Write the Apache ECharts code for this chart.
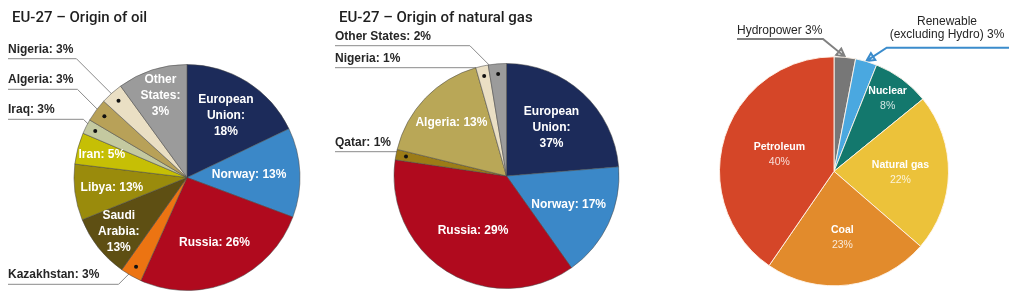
<!DOCTYPE html>
<html><head><meta charset="utf-8">
<script src="https://cdn.jsdelivr.net/npm/echarts@6/dist/echarts.min.js"></script>
<style>html,body{margin:0;padding:0;background:#fff}#c{width:1024px;height:302px}</style>
</head><body><div id="c"></div>
<script>
// ---------------- DATA ----------------
const oilTitle = 'EU-27 – Origin of oil';
const oilCategories = ['European Union','Norway','Russia','Kazakhstan','Saudi Arabia','Libya','Iran','Iraq','Algeria','Nigeria','Other States'];
// slice sizes as drawn in the picture (share of the full circle, %)
const oilSlices = [17.9,12.8,26.0,3.1,9.1,8.0,4.5,2.1,3.3,3.2,10.0];
// percentages printed on the picture
const oilPrinted = ['18%','13%','26%','3%','13%','13%','5%','3%','3%','3%','3%'];

const gasTitle = 'EU-27 – Origin of natural gas';
const gasCategories = ['European Union','Norway','Russia','Qatar','Algeria','Nigeria','Other States'];
const gasSlices = [23.7,16.5,37.1,1.5,16.8,1.8,2.6];
const gasPrinted = ['37%','17%','29%','1%','13%','1%','2%'];

const energyCategories = ['Hydropower','Renewable (excluding Hydro)','Nuclear','Natural gas','Coal','Petroleum'];
const energyValues = [3,3,8,22,23,40];
const energyPrinted = ['3%','3%','8%','22%','23%','40%'];

// ---------------- STYLE / LAYOUT ----------------
const oilColors = ['#1c2b5a','#3b88c8','#b00a1e','#ec7412','#5e4f13','#9a8b0c','#c6bf05','#c4c9a0','#b8a158','#eadfc4','#9b9b9b'];
const gasColors = ['#1c2b5a','#3b88c8','#b00a1e','#9c7c17','#b9a757','#eadfc4','#9b9b9b'];
const energyColors = ['#777777','#4aa8e0','#13786d','#ecc23a','#e28b2c','#d54628'];

const LABEL_FONT = "'Liberation Sans', Arial, sans-serif";

const oilCfg = {
  center:[187,177.5], r:113,
  wrap:{'European Union':'European\nUnion','Saudi Arabia':'Saudi\nArabia','Other States':'Other\nStates'},
  labelR:{'European Union':0.646,'Norway':0.55,'Russia':0.63,'Saudi Arabia':0.77,'Libya':0.67,'Iran':0.78,'Other States':0.76},
  callouts:{'Nigeria':{lineY:58.7},'Algeria':{lineY:89.3},'Iraq':{lineY:119.3},'Kazakhstan':{lineY:284.3}},
  calloutX:8, dotR:0.91
};
const gasCfg = {
  center:[506.5,176], r:112.5,
  wrap:{'European Union':'European\nUnion'},
  labelR:{'European Union':0.59,'Norway':0.61,'Russia':0.57,'Algeria':0.68},
  callouts:{'Other States':{lineY:45.7},'Nigeria':{lineY:67.7},'Qatar':{lineY:151.7}},
  calloutX:335, dotR:0.91
};
const energyCfg = {
  center:[834,171.3], r:114.5,
  labelR:{'Nuclear':0.79,'Natural gas':0.58,'Coal':0.58,'Petroleum':0.5},
  callouts:{
    'Hydropower':{text:'Hydropower 3%', lineY:39, from:737, knee:823, textX:737, textY:36.5, align:'left', color:'#808080'},
    'Renewable (excluding Hydro)':{text:'Renewable\n(excluding Hydro) 3%', lineY:47.7, from:1009, knee:886.7, textX:947, textY:41, align:'center', color:'#3b8ccc'}
  }
};

// ---------------- HELPERS ----------------
function midDirs(values){
  const tot = values.reduce((a,b)=>a+b,0); let acc=0;
  return values.map(v=>{ const th=(acc+v/2)/tot*2*Math.PI; acc+=v; return [Math.sin(th), -Math.cos(th)]; });
}
function radialLayout(cfg, names){
  return function(p){
    const n = names[p.dataIndex]; const k = cfg.labelR[n];
    if (k == null) return {};
    const [cx,cy]=cfg.center; const lr=p.labelRect;
    const lx=lr.x+lr.width/2, ly=lr.y+lr.height/2;
    const d=Math.hypot(lx-cx,ly-cy)||1; const s=k*cfg.r/d;
    return {dx:(lx-cx)*(s-1), dy:(ly-cy)*(s-1)};
  };
}
function euLayout(cfg, names, values){
  const dirs = midDirs(values); const inner = radialLayout(cfg, names);
  return function(p){
    const n = names[p.dataIndex]; const co = cfg.callouts[n];
    if (!co) return inner(p);
    const [cx,cy]=cfg.center; const dir=dirs[p.dataIndex];
    const dot=[cx+dir[0]*cfg.r*cfg.dotR, cy+dir[1]*cfg.r*cfg.dotR];
    const knee=[dot[0]-Math.abs(dot[1]-co.lineY), co.lineY];
    return {x:cfg.calloutX, y:co.lineY-1.5, align:'left', verticalAlign:'bottom',
      labelLinePoints:[dot, knee, [cfg.calloutX, co.lineY]]};
  };
}
function dotLayout(cfg){
  return function(p){
    const [cx,cy]=cfg.center; const lr=p.labelRect;
    const lx=lr.x+lr.width/2, ly=lr.y+lr.height/2;
    const d=Math.hypot(lx-cx,ly-cy)||1; const s=cfg.dotR*cfg.r/d;
    return {dx:(lx-cx)*(s-1), dy:(ly-cy)*(s-1)};
  };
}
function euSeries(cfg, names, values, printed, colors){
  const data = names.map((n,i)=>{
    const isCo = !!cfg.callouts[n];
    return {name:n, value:values[i], itemStyle:{color:colors[i]},
      label:isCo?{position:'outside', color:'#262626'}:{position:'inside', color:'#fff'},
      labelLine:{show:isCo}};
  });
  return {
    type:'pie', center:cfg.center, radius:[0,cfg.r], startAngle:90, clockwise:true,
    avoidLabelOverlap:false, animation:false, silent:true, data,
    itemStyle:{borderColor:'rgba(70,70,70,0.75)', borderWidth:0.7},
    label:{fontFamily:LABEL_FONT, fontWeight:'bold', fontSize:12, lineHeight:16,
      formatter:p=>{
        const n=names[p.dataIndex];
        if (cfg.callouts[n]) return n+': '+printed[p.dataIndex];
        if (cfg.wrap[n]) return cfg.wrap[n]+':\n'+printed[p.dataIndex];
        return n+': '+printed[p.dataIndex];
      }},
    labelLine:{show:true, length:10, length2:10, smooth:false, lineStyle:{color:'#8a8a8a', width:1}},
    labelLayout: euLayout(cfg, names, values)
  };
}
function dotSeries(cfg, names, values){
  return {
    type:'pie', center:cfg.center, radius:[0,cfg.r], startAngle:90, clockwise:true,
    avoidLabelOverlap:false, animation:false, silent:true, z:5,
    itemStyle:{color:'transparent', borderWidth:0},
    data:names.map((n,i)=>({name:n, value:values[i], label:{show:!!cfg.callouts[n]}})),
    label:{position:'inside', formatter:'{d| }', rich:{d:{width:4,height:4,borderRadius:2,backgroundColor:'#111',fontSize:4,lineHeight:4}}},
    labelLine:{show:false},
    labelLayout: dotLayout(cfg)
  };
}
function energySeries(cfg, names, values, printed, colors){
  const dirs = midDirs(values); const inner = radialLayout(cfg, names);
  const data = names.map((n,i)=>{
    const co = cfg.callouts[n];
    return {name:n, value:values[i], itemStyle:{color:colors[i]},
      label: co?{position:'outside', fontFamily:LABEL_FONT, fontSize:12, lineHeight:12.6, color:'#262626', align:co.align}:{position:'inside'},
      labelLine: co?{show:true, lineStyle:{color:co.color, width:2}}:{show:false}};
  });
  return {
    type:'pie', center:cfg.center, radius:[0,cfg.r], startAngle:90, clockwise:true,
    avoidLabelOverlap:false, animation:false, silent:true, data,
    itemStyle:{borderColor:'rgba(255,245,235,0.9)', borderWidth:1},
    label:{fontFamily:LABEL_FONT,
      formatter:p=>{
        const n=names[p.dataIndex]; const co=cfg.callouts[n];
        if (co) return co.text;
        return '{n|'+n+'}\n{v|'+printed[p.dataIndex]+'}';
      },
      rich:{n:{fontFamily:LABEL_FONT, fontWeight:'bold', fontSize:10.5, color:'#ffffff', lineHeight:15},
            v:{fontFamily:LABEL_FONT, fontSize:10.5, color:'rgba(255,255,255,0.82)', lineHeight:15}}},
    labelLine:{smooth:false},
    labelLayout: function(p){
      const n=names[p.dataIndex]; const co=cfg.callouts[n];
      if (!co) return inner(p);
      const [cx,cy]=cfg.center; const dir=dirs[p.dataIndex];
      const tip=[cx+dir[0]*(cfg.r+0.5), cy+dir[1]*(cfg.r+0.5)];
      const knee=[co.knee, co.lineY];
      let ux=tip[0]-knee[0], uy=tip[1]-knee[1]; const L=Math.hypot(ux,uy)||1; ux/=L; uy/=L;
      const base=[tip[0]-ux*8, tip[1]-uy*8];
      const w1=[base[0]-uy*4, base[1]+ux*4], w2=[base[0]+uy*4, base[1]-ux*4];
      return {x:co.textX, y:co.textY, align:co.align, verticalAlign:'bottom',
        labelLinePoints:[[co.from,co.lineY], knee, base, w1, tip, w2, base, tip]};
    }
  };
}

// ---------------- CHART ----------------
const chart = echarts.init(document.getElementById('c'), null, {renderer:'canvas'});
const titleStyle = {fontFamily:"Roboto, 'Liberation Sans', sans-serif", fontSize:15, fontWeight:500, color:'#1e1e1e'};
chart.setOption({
  animation:false,
  backgroundColor:'#ffffff',
  title:[
    {text:oilTitle, left:7, top:6, textStyle:titleStyle},
    {text:gasTitle, left:334, top:6, textStyle:titleStyle}
  ],
  series:[
    euSeries(oilCfg, oilCategories, oilSlices, oilPrinted, oilColors),
    dotSeries(oilCfg, oilCategories, oilSlices),
    euSeries(gasCfg, gasCategories, gasSlices, gasPrinted, gasColors),
    dotSeries(gasCfg, gasCategories, gasSlices),
    energySeries(energyCfg, energyCategories, energyValues, energyPrinted, energyColors)
  ]
});
</script></body></html>
